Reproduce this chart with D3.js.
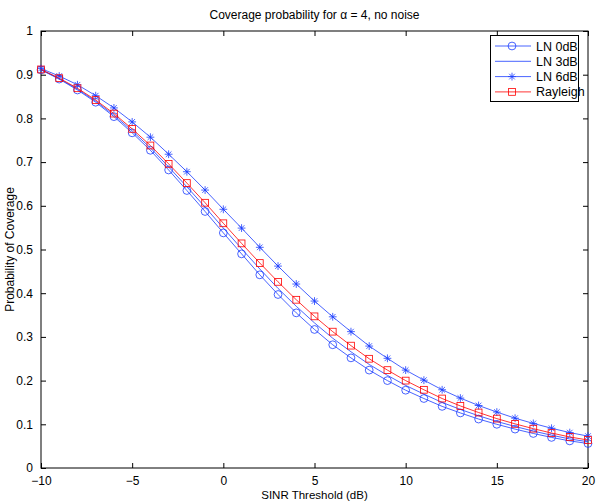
<!DOCTYPE html>
<html><head><meta charset="utf-8">
<script src="https://cdn.jsdelivr.net/npm/d3@7"></script>
<style>body{margin:0;background:#fff} svg{display:block} text{font-family:"Liberation Sans",Arial,Helvetica,sans-serif;fill:#000}</style>
</head><body><svg id="c" width="609" height="502"></svg>
<script>
const thresholdsDb = [-10,-9,-8,-7,-6,-5,-4,-3,-2,-1,0,1,2,3,4,5,6,7,8,9,10,11,12,13,14,15,16,17,18,19,20];
const ln0dB = [0.911,0.890,0.865,0.837,0.804,0.767,0.727,0.682,0.635,0.587,0.538,0.490,0.442,0.397,0.355,0.317,0.282,0.252,0.224,0.200,0.178,0.159,0.141,0.126,0.112,0.100,0.089,0.079,0.070,0.062,0.056];
const ln3dB = [0.9115,0.891,0.867,0.8395,0.8075,0.7715,0.7325,0.689,0.6435,0.597,0.549,0.502,0.4555,0.411,0.370,0.332,0.297,0.266,0.237,0.212,0.189,0.169,0.150,0.134,0.1195,0.1065,0.095,0.0845,0.075,0.0665,0.060];
const ln6dB = [0.914,0.897,0.877,0.852,0.824,0.792,0.757,0.718,0.678,0.636,0.592,0.549,0.505,0.462,0.421,0.382,0.346,0.312,0.279,0.251,0.224,0.201,0.179,0.160,0.143,0.128,0.114,0.102,0.091,0.081,0.073];
const rayleigh = [0.912,0.892,0.869,0.842,0.811,0.776,0.738,0.696,0.652,0.607,0.560,0.514,0.469,0.426,0.385,0.347,0.312,0.280,0.250,0.224,0.200,0.179,0.159,0.142,0.127,0.113,0.101,0.090,0.080,0.071,0.064];
const seriesNames = ["LN 0dB","LN 3dB","LN 6dB","Rayleigh"];
const xTicks = [-10,-5,0,5,10,15,20];
const yTicks = [0,0.1,0.2,0.3,0.4,0.5,0.6,0.7,0.8,0.9,1];
const titleText = "Coverage probability for \u03b1 = 4, no noise";
const xLabel = "SINR Threshold (dB)";
const yLabel = "Probability of Coverage";

const BLUE = "#1a3cff", RED = "#ff0000";
const series = [
  {name: seriesNames[0], values: ln0dB, color: BLUE, marker: "circle"},
  {name: seriesNames[1], values: ln3dB, color: BLUE, marker: "none"},
  {name: seriesNames[2], values: ln6dB, color: BLUE, marker: "star"},
  {name: seriesNames[3], values: rayleigh, color: RED, marker: "square"}
];

const L = 41, R = 588, T = 31, B = 468;
const svg = d3.select("#c");
const x = d3.scaleLinear().domain([-10, 20]).range([L, R]);
const y = d3.scaleLinear().domain([0, 1]).range([B, T]);

function fmt(v){ const s = d3.format("~g")(+v.toFixed(2)); return s.replace("-", "\u2212"); }

// axes with inward ticks
const gx = svg.append("g").attr("transform", `translate(0,${B})`)
  .call(d3.axisBottom(x).tickValues(xTicks).tickSizeInner(-5).tickSizeOuter(0).tickPadding(8).tickFormat(fmt));
const gxt = svg.append("g").attr("transform", `translate(0,${T})`)
  .call(d3.axisTop(x).tickValues(xTicks).tickSizeInner(-5).tickSizeOuter(0).tickFormat(""));
const gy = svg.append("g").attr("transform", `translate(${L},0)`)
  .call(d3.axisLeft(y).tickValues(yTicks).tickSizeInner(-5).tickSizeOuter(0).tickPadding(8).tickFormat(fmt));
const gyr = svg.append("g").attr("transform", `translate(${R},0)`)
  .call(d3.axisRight(y).tickValues(yTicks).tickSizeInner(-5).tickSizeOuter(0).tickFormat(""));
[gx,gxt,gy,gyr].forEach(g => {
  g.select(".domain").remove();
  g.selectAll("line").attr("stroke", "#000").attr("stroke-width", 1);
  g.selectAll("text").attr("font-size", 12).attr("font-family", '"Liberation Sans",Arial,sans-serif').attr("fill", "#000");
});
svg.append("rect").attr("x", L).attr("y", T).attr("width", R - L).attr("height", B - T)
  .attr("fill", "none").attr("stroke", "#000").attr("stroke-width", 1);

// lines
const line = d3.line().x((d, i) => x(thresholdsDb[i])).y(d => y(d));
const plot = svg.append("g");

function drawMarker(g, type, cx, cy, color) {
  if (type === "circle") {
    g.append("circle").attr("cx", cx).attr("cy", cy).attr("r", 3.9).attr("fill", "none").attr("stroke", color).attr("stroke-width", 0.8);
  } else if (type === "square") {
    g.append("rect").attr("x", cx - 3.4).attr("y", cy - 3.4).attr("width", 6.8).attr("height", 6.8).attr("fill", "none").attr("stroke", color).attr("stroke-width", 0.8);
  } else if (type === "star") {
    const r = 3.9, d = r * 0.72;
    g.append("path").attr("d", `M${cx-r},${cy}L${cx+r},${cy}M${cx},${cy-r}L${cx},${cy+r}M${cx-d},${cy-d}L${cx+d},${cy+d}M${cx-d},${cy+d}L${cx+d},${cy-d}`)
      .attr("stroke", color).attr("stroke-width", 0.8).attr("fill", "none");
  }
}

series.forEach(s => {
  plot.append("path").attr("d", line(s.values)).attr("fill", "none").attr("stroke", s.color).attr("stroke-width", 0.8);
  const mg = plot.append("g");
  s.values.forEach((v, i) => drawMarker(mg, s.marker, x(thresholdsDb[i]), y(v), s.color));
});

// legend
const lg = svg.append("g");
const lx0 = 490, ly0 = 35, lw = 88, lh = 66;
lg.append("rect").attr("x", lx0 + 0.5).attr("y", ly0 + 0.5).attr("width", lw).attr("height", lh).attr("fill", "#fff").attr("stroke", "#000").attr("stroke-width", 1);
series.forEach((s, i) => {
  const yy = ly0 + 11 + i * 15.3;
  lg.append("line").attr("x1", lx0 + 5).attr("x2", lx0 + 41).attr("y1", yy).attr("y2", yy).attr("stroke", s.color).attr("stroke-width", 0.8);
  drawMarker(lg, s.marker, lx0 + 22, yy, s.color);
  lg.append("text").attr("x", lx0 + 46).attr("y", yy + 4.5).attr("font-size", 12.5).text(s.name);
});

// title & labels
svg.append("text").attr("x", (L + R) / 2).attr("y", 19).attr("text-anchor", "middle").attr("font-size", 12).text(titleText);
svg.append("text").attr("x", (L + R) / 2).attr("y", 498.5).attr("text-anchor", "middle").attr("font-size", 11.5).text(xLabel);
svg.append("text").attr("transform", `translate(14,${(T + B) / 2}) rotate(-90)`).attr("text-anchor", "middle").attr("font-size", 12).text(yLabel);
</script>
</body></html>
